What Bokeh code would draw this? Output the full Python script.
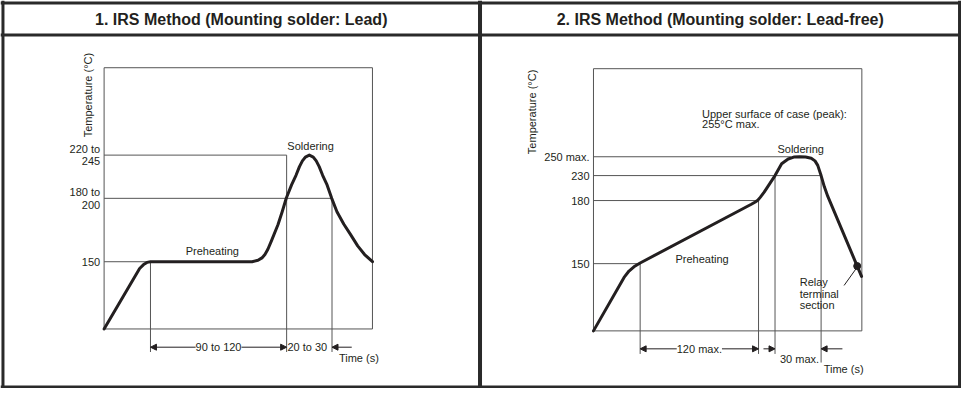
import math
from bokeh.plotting import figure
from bokeh.models import Range1d, Arrow, NormalHead, Label, Span
from bokeh.core.properties import value
from bokeh.embed import file_html
from bokeh.resources import INLINE

# ---------------------------------------------------------------- data
# Schematic profile units: origin = lower-left corner of each profile box.
TITLES = ["1. IRS Method (Mounting solder: Lead)",
          "2. IRS Method (Mounting solder: Lead-free)"]
AXIS_TITLE = "Temperature (°C)"
TIME_TITLE = "Time (s)"

# Panel 1 - lead solder
P1_BOX = [272, 272]
P1_TIME = [0, 36, 40, 43.5, 47, 150, 156, 160, 163, 166, 169.7, 176.3, 180.5,
           184.7, 190, 194.5, 198, 201, 204, 208, 212, 215, 218, 221.5, 226,
           230.7, 236, 243, 250, 257, 264, 272]
P1_TEMP = [0, 63, 67, 69.3, 70, 70, 71.5, 74, 77.5, 83, 92, 108.7, 122,
           136.3, 150, 160, 169, 175, 179, 181, 179, 175, 169, 160, 150,
           136, 122, 109, 98, 86.5, 77.5, 70]
P1_LEVEL_Y = [70, 136, 181]
P1_LEVEL_END = [47, 231, 185]
P1_TICK_TEXT = ["150", "180 to", "200", "220 to", "245"]
P1_TICK_Y = [70, 142.5, 129.5, 187.5, 175]
P1_MARK_X = [47, 185, 231]
P1_MARK_TOP = [70, 181, 136]
P1_MARK_BOTTOM = [-24, -24, -24]

# Panel 2 - lead-free solder
P2_BOX = [272, 273]
P2_TIME = [0, 31, 36, 41, 47.3, 160, 164, 166.5, 169, 173, 178.5, 184, 190.7,
           197.3, 203, 209, 215, 220.7, 224.5, 227.3, 230.7, 234, 237.5,
           267.3, 271.7]
P2_TEMP = [0, 55.7, 62.3, 66.7, 70.7, 131.8, 134.2, 136, 139, 144.5, 153,
           161.7, 174, 179, 181, 181.3, 181, 179.7, 177, 172.3, 161.7, 150,
           140, 67.5, 56.7]
P2_LEVEL_Y = [70, 135.7, 161.7, 181.3]
P2_LEVEL_END = [47.3, 167.3, 230.7, 200]
P2_TICK_TEXT = ["150", "180", "230", "250 max."]
P2_TICK_Y = [70, 135.7, 161.7, 181.3]
P2_MARK_X = [47.3, 167.3, 184, 230.7]
P2_MARK_TOP = [70.7, 136.7, 161.7, 161.7]
P2_MARK_BOTTOM = [-24, -24, -24, -33]
P2_TERMINAL = [267.3, 67.5]

# ---------------------------------------------------------------- layout
FONT = "Liberation Sans"
INK = "#231f20"
GRAY = "#555555"
PAGE_X = (2, 976)
PAGE_Y = (404, 0)
P1_ORIGIN = (107, 342)
P2_ORIGIN = (603, 344)

p = figure(width=961, height=388, output_backend="svg", toolbar_location=None,
           x_range=Range1d(*PAGE_X), y_range=Range1d(*PAGE_Y),
           x_axis_location=None, y_axis_location=None, min_border=0)
p.grid.visible = False
p.outline_line_color = None
p.background_fill_color = "white"
p.border_fill_color = "white"

p.extra_x_ranges = {
    "p1": Range1d(PAGE_X[0] - P1_ORIGIN[0], PAGE_X[1] - P1_ORIGIN[0]),
    "p2": Range1d(PAGE_X[0] - P2_ORIGIN[0], PAGE_X[1] - P2_ORIGIN[0]),
}
p.extra_y_ranges = {
    "p1": Range1d(P1_ORIGIN[1] - PAGE_Y[0], P1_ORIGIN[1] - PAGE_Y[1]),
    "p2": Range1d(P2_ORIGIN[1] - PAGE_Y[0], P2_ORIGIN[1] - PAGE_Y[1]),
}


def txt(xs, ys, labels, rng, align="left", baseline="middle", size="11px",
        style="normal", angle=0.0):
    p.text(x=xs, y=ys, text=labels, x_range_name=rng, y_range_name=rng,
           text_font=value(FONT), text_font_size=size, text_font_style=style,
           text_align=align, text_baseline=baseline, text_color=INK,
           angle=angle)


def arrow(rng, x0, x1, y, both=False):
    head = dict(size=6, fill_color=INK, line_color=INK, line_width=1)
    p.add_layout(Arrow(x_start=x0, y_start=y, x_end=x1, y_end=y,
                       start=NormalHead(**head) if both else None,
                       end=NormalHead(**head), line_color=INK, line_width=1,
                       x_range_name=rng, y_range_name=rng))


def dim_label(rng, x, y, t):
    p.add_layout(Label(x=x, y=y, text=t, x_range_name=rng, y_range_name=rng,
                       text_align="center", text_baseline="middle",
                       text_font=FONT, text_font_size="11px", text_color=INK,
                       background_fill_color="white"))


def panel(rng, box, t, temp, lvl_y, lvl_end, tick_text, tick_y,
          mx, mtop, mbot):
    p.quad(left=[0], right=[box[0]], bottom=[0], top=[box[1]],
           fill_color=None, line_color=GRAY, line_width=1,
           x_range_name=rng, y_range_name=rng)
    p.segment(x0=[0] * len(lvl_y), y0=lvl_y, x1=lvl_end, y1=lvl_y,
              line_color=GRAY, line_width=1,
              x_range_name=rng, y_range_name=rng)
    p.segment(x0=mx, y0=mtop, x1=mx, y1=mbot, line_color=GRAY, line_width=1,
              x_range_name=rng, y_range_name=rng)
    p.line(t, temp, line_color=INK, line_width=3, line_join="round",
           line_cap="round", x_range_name=rng, y_range_name=rng)
    txt([-4] * len(tick_text), tick_y, tick_text, rng, align="right")


# ---- panel 1
panel("p1", P1_BOX, P1_TIME, P1_TEMP, P1_LEVEL_Y, P1_LEVEL_END,
      P1_TICK_TEXT, P1_TICK_Y, P1_MARK_X, P1_MARK_TOP, P1_MARK_BOTTOM)
txt([-16], [243.5], [AXIS_TITLE], "p1", align="center", angle=math.pi / 2)
txt([109.7], [81], ["Preheating"], "p1", align="center")
txt([209.3], [191], ["Soldering"], "p1", align="center")
txt([238], [-30.3], [TIME_TITLE], "p1")
txt([206], [-19], ["20 to 30"], "p1", align="center")
arrow("p1", 47, 185, -19, both=True)
dim_label("p1", 116, -19, "90 to 120")
arrow("p1", 251, 231, -19)

# ---- panel 2
panel("p2", P2_BOX, P2_TIME, P2_TEMP, P2_LEVEL_Y, P2_LEVEL_END,
      P2_TICK_TEXT, P2_TICK_Y, P2_MARK_X, P2_MARK_TOP, P2_MARK_BOTTOM)
txt([-62], [228], [AXIS_TITLE], "p2", align="center", angle=math.pi / 2)
txt([110, 110], [226.3, 215.7],
    ["Upper surface of case (peak):", "255°C max."], "p2")
txt([210], [189.7], ["Soldering"], "p2", align="center")
txt([110], [74.7], ["Preheating"], "p2", align="center")
txt([209, 209, 209], [50.7, 38.7, 26.7], ["Relay", "terminal", "section"], "p2")
p.segment(x0=[254], y0=[47.3], x1=[266], y1=[64.5], line_color=INK,
          line_width=1, x_range_name="p2", y_range_name="p2")
p.scatter(x=[P2_TERMINAL[0]], y=[P2_TERMINAL[1]], size=7, color=INK,
          x_range_name="p2", y_range_name="p2")
arrow("p2", 47.3, 167.3, -18.7, both=True)
dim_label("p2", 107.3, -18.7, "120 max.")
arrow("p2", 172.3, 184, -18.7)
arrow("p2", 252.3, 230.7, -18.7)
txt([189], [-29.3], ["30 max."], "p2")
txt([233.3], [-40], [TIME_TITLE], "p2")

# ---- table frame and headers (page coordinates)
txt([246, 731.5], [19.5, 19.5], TITLES, "default", align="center",
    size="16px", style="bold")
for loc, dim, w in [(2.5, "width", 3), (402.5, "width", 3), (36, "width", 3),
                    (4.5, "height", 3), (974, "height", 3),
                    (488, "height", 4)]:
    p.add_layout(Span(location=loc, dimension=dim, line_color="#2a2a2a",
                      line_width=w))

open("out.html", "w").write(file_html(p, INLINE))
